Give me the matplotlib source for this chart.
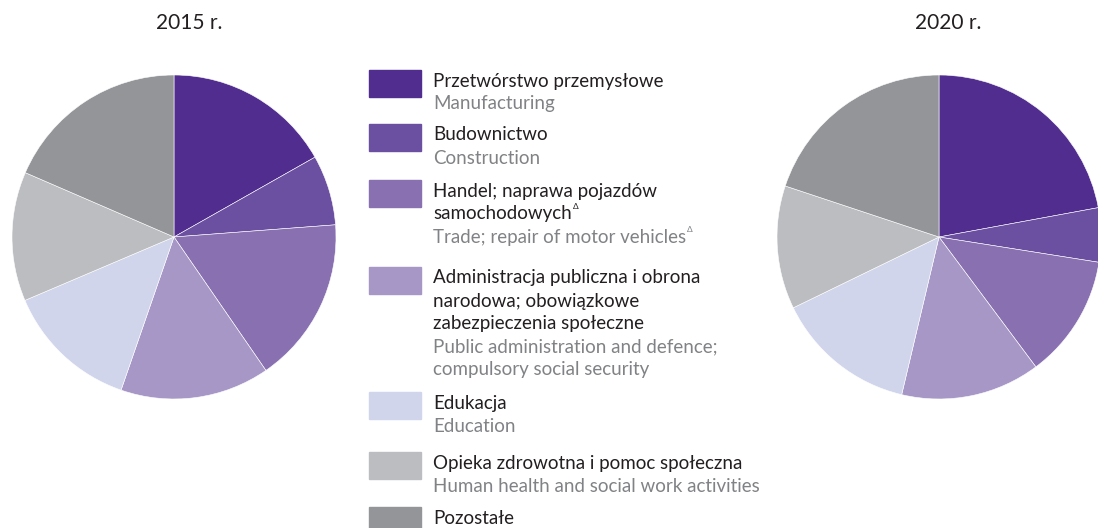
import matplotlib.pyplot as plt

# udziały (%)
sektory_pl = [
    "Przetwórstwo przemysłowe",
    "Budownictwo",
    "Handel; naprawa pojazdów\nsamochodowych",
    "Administracja publiczna i obrona\nnarodowa; obowiązkowe\nzabezpieczenia społeczne",
    "Edukacja",
    "Opieka zdrowotna i pomoc społeczna",
    "Pozostałe",
]
sektory_en = [
    "Manufacturing",
    "Construction",
    "Trade; repair of motor vehicles",
    "Public administration and defence;\ncompulsory social security",
    "Education",
    "Human health and social work activities",
    "",
]
udzialy_2015 = [16.8, 7.0, 16.6, 14.9, 13.3, 12.9, 18.5]
udzialy_2020 = [22.1, 5.4, 12.3, 13.9, 14.1, 12.3, 19.9]
kolory = ["#512d8f", "#6b4fa0", "#8970b1", "#a797c7", "#d0d5eb", "#bcbdc0", "#939598"]

W, H = 1098, 528
plt.rcParams["font.family"] = ["Lato", "DejaVu Sans"]
fig = plt.figure(figsize=(W / 100, H / 100), dpi=100)


def px(x, y):
    return x / W, 1 - y / H


def rysuj_kolo(cx, cy, r, dane, tytul, tx):
    ax = fig.add_axes([(cx - r) / W, 1 - (cy + r) / H, 2 * r / W, 2 * r / H])
    ax.pie(dane, colors=kolory, startangle=90, counterclock=False,
           wedgeprops=dict(edgecolor="white", linewidth=0.4))
    ax.set_xlim(-1, 1)
    ax.set_ylim(-1, 1)
    ax.set_aspect("equal")
    ax.axis("off")
    fig.text(*px(tx, 23), tytul, ha="center", va="center", fontsize=15, color="#231f20")
    return ax


ax1 = rysuj_kolo(174, 237, 162, udzialy_2015, "2015 r.", 189)
rysuj_kolo(939, 237, 162, udzialy_2020, "2020 r.", 948)

# legenda
box_y = [70, 124, 180, 267, 392, 452, 507]
lh = 23
delty = []
for i, (pl, en) in enumerate(zip(sektory_pl, sektory_en)):
    y = box_y[i]
    fig.patches.append(plt.Rectangle(px(369, y + 27), 52 / W, 27 / H,
                                     transform=fig.transFigure, color=kolory[i]))
    lines_pl = pl.split("\n")
    for j, line in enumerate(lines_pl):
        t = fig.text(*px(433, y + 11 + j * lh), line, ha="left", va="center",
                     fontsize=13.5, color="#231f20")
        if i == 2 and j == 1:
            delty.append(t)
    if en:
        for k, line in enumerate(en.split("\n")):
            t2 = fig.text(*px(433, y + 11 + (len(lines_pl) + k) * lh), line, ha="left",
                          va="center", fontsize=13.5, color="#808285")
            if i == 2:
                delty.append(t2)

for t in delty:
    ax1.annotate("Δ", xy=(1, 0.75), xycoords=t, xytext=(0.5, 0),
                 textcoords="offset points", fontsize=6,
                 color=t.get_color(), va="bottom", ha="left")

fig.savefig("out.png", dpi=100)
